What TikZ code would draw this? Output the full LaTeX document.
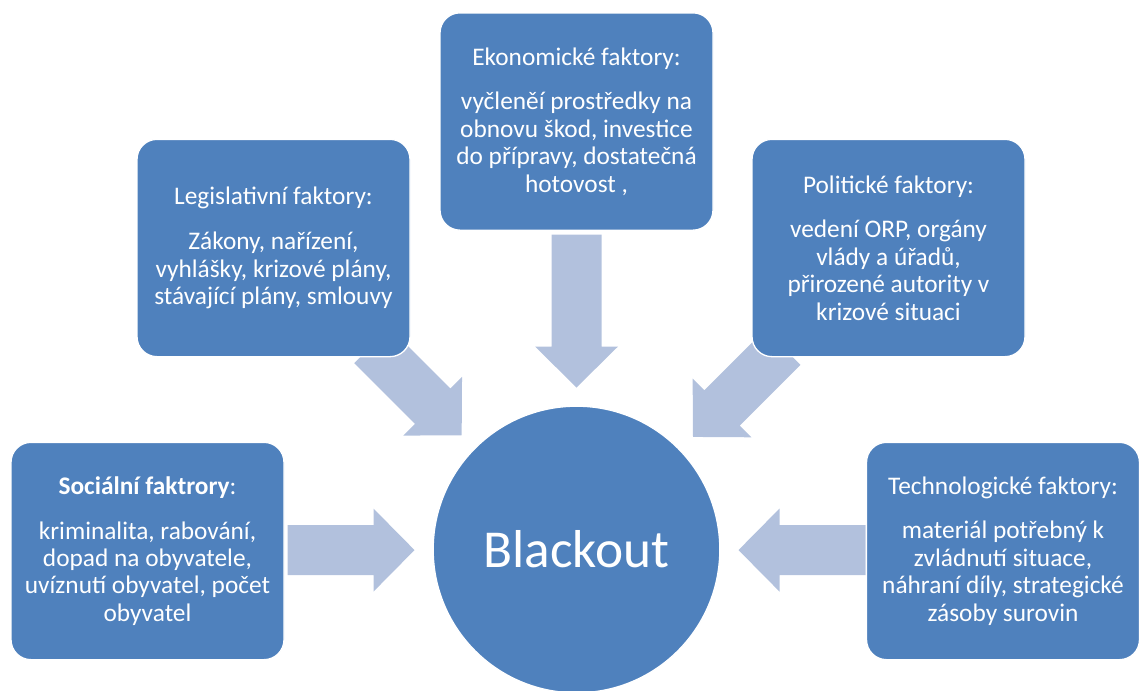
\documentclass[tikz,border=0pt]{standalone}
\usepackage{fontspec}
\setmainfont{Carlito}
\usetikzlibrary{calc,backgrounds}
\definecolor{boxblue}{RGB}{79,129,189}
\definecolor{arrowblue}{RGB}{178,193,221}
\tikzset{
  factorbox/.style={draw=white, line width=1pt, fill=boxblue, rounded corners=15pt,
    minimum width=204.75pt, minimum height=163pt, align=center, text=white,
    font=\fontsize{19}{20.6}\selectfont, inner sep=0pt},
  hub/.style={circle, fill=boxblue, draw=white, line width=1pt, minimum size=215pt,
    text=white, font=\fontsize{40}{44}\selectfont, inner sep=0pt},
  blockarrowfill/.style={fill=arrowblue}
}
\newcommand\blockarrow[3]{%
  \fill[blockarrowfill, shift={(#1)}, rotate=#2]
    (0,0) -- (-41,41.5) -- (-41,25) -- (-#3,25) -- (-#3,-25) -- (-41,-25) -- (-41,-41.5) -- cycle;}
\begin{document}
\begin{tikzpicture}[x=0.75pt, y=-0.75pt]
\useasboundingbox (0,0) rectangle (1141,690);
\node[hub] (c) at (576.5,549.5) {Blackout};
\node[factorbox] (soc) at (147.5,551) {\textbf{Sociální faktrory}:\\[13pt]kriminalita, rabování,\\dopad na obyvatele,\\uvíznutí obyvatel, počet\\obyvatel};
\node[factorbox] (leg) at (273.5,248) {Legislativní faktory:\\[13pt]Zákony, nařízení,\\vyhlášky, krizové plány,\\stávající plány, smlouvy};
\node[factorbox] (eko) at (576.5,121.5) {Ekonomické faktory:\\[13pt]vyčleněí prostředky na\\obnovu škod, investice\\do přípravy, dostatečná\\hotovost ,};
\node[factorbox] (pol) at (888.5,248) {Politické faktory:\\[13pt]vedení ORP, orgány\\vlády a úřadů,\\přirozené autority v\\krizové situaci};
\node[factorbox] (tech) at (1003,551) {Technologické faktory:\\[13pt]materiál potřebný k\\zvládnutí situace,\\náhraní díly, strategické\\zásoby surovin};
\begin{pgfonlayer}{background}
\coordinate (tsoc) at ($(c.center)!121.5pt!(soc.center)$);
\coordinate (tleg) at ($(c.center)!121.5pt!(leg.center)$);
\coordinate (teko) at ($(c.center)!121.5pt!(eko.center)$);
\coordinate (tpol) at ($(c.center)!121.5pt!(pol.center)$);
\coordinate (ttech) at ($(c.center)!121.5pt!(tech.center)$);
\blockarrow{tsoc}{0}{127}
\blockarrow{tleg}{-45}{127}
\blockarrow{teko}{-90}{153}
\blockarrow{tpol}{-135}{127}
\blockarrow{ttech}{180}{127}
\end{pgfonlayer}
\end{tikzpicture}
\end{document}
